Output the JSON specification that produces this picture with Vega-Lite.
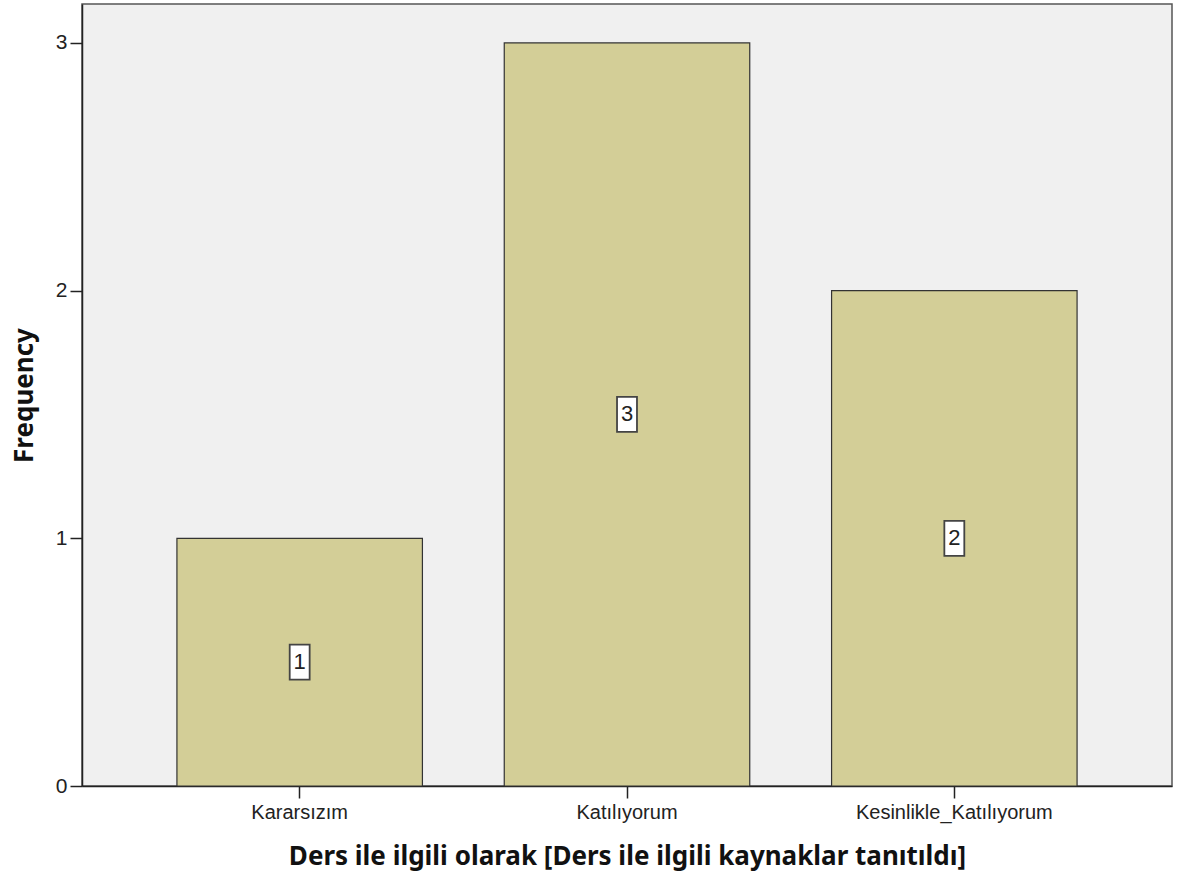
{
  "$schema": "https://vega.github.io/schema/vega-lite/v6.json",
  "width": 1090,
  "height": 782,
  "autosize": "none",
  "padding": {"left": 82, "top": 4, "right": 8, "bottom": 97},
  "background": "white",
  "config": {"view": {"fill": "#f0f0f0", "stroke": "#555555", "strokeWidth": 1.5}},
  "data": {"values": [
    {"category": "Kararsızım", "count": 1},
    {"category": "Katılıyorum", "count": 3},
    {"category": "Kesinlikle_Katılıyorum", "count": 2}
  ]},
  "encoding": {
    "x": {
      "field": "category", "type": "nominal", "sort": null,
      "scale": {"paddingInner": 0.25, "paddingOuter": 0.29},
      "axis": {
        "labelAngle": 0, "tickSize": 12, "tickColor": "#222", "tickWidth": 1.5,
        "domainColor": "#222", "domainWidth": 1.5,
        "labelFont": "Liberation Sans", "labelFontSize": 20, "labelColor": "#222", "labelPadding": 4, "labelLimit": 0,
        "title": "Ders ile ilgili olarak [Ders ile ilgili kaynaklar tanıtıldı]",
        "titleFont": "Noto Sans", "titleFontSize": 26, "titleFontWeight": "bold", "titleColor": "#111", "titlePadding": 21
      }
    }
  },
  "layer": [
    {
      "mark": {"type": "bar", "fill": "#d3ce97", "stroke": "#333333", "strokeWidth": 1.2},
      "encoding": {
        "y": {
          "field": "count", "type": "quantitative",
          "scale": {"domain": [0, 3.157], "nice": false, "zero": true},
          "axis": {
            "values": [0, 1, 2, 3], "format": "d", "grid": false,
            "tickSize": 12, "tickColor": "#222", "tickWidth": 1.5,
            "domainColor": "#222", "domainWidth": 1.5,
            "labelFont": "Liberation Sans", "labelFontSize": 21, "labelColor": "#222", "labelPadding": 3,
            "title": "Frequency",
            "titleFont": "Noto Sans", "titleFontSize": 26, "titleFontWeight": "bold", "titleColor": "#111", "titlePadding": 18
          }
        }
      }
    },
    {
      "mark": {"type": "point", "shape": "M-0.57,-1L0.57,-1L0.57,1L-0.57,1Z", "filled": true, "fill": "white", "stroke": "#444444", "strokeWidth": 1.8, "opacity": 1, "size": 1225},
      "encoding": {
        "y": {"field": "count", "type": "quantitative", "scale": {"domain": [0, 6.314], "nice": false}, "axis": null}
      }
    },
    {
      "mark": {"type": "text", "font": "Liberation Sans", "fontSize": 22, "fill": "#222", "baseline": "middle", "align": "center"},
      "encoding": {
        "y": {"field": "count", "type": "quantitative", "scale": {"domain": [0, 6.314], "nice": false}, "axis": null},
        "text": {"field": "count", "type": "quantitative"}
      }
    }
  ],
  "resolve": {"scale": {"y": "independent"}}
}
